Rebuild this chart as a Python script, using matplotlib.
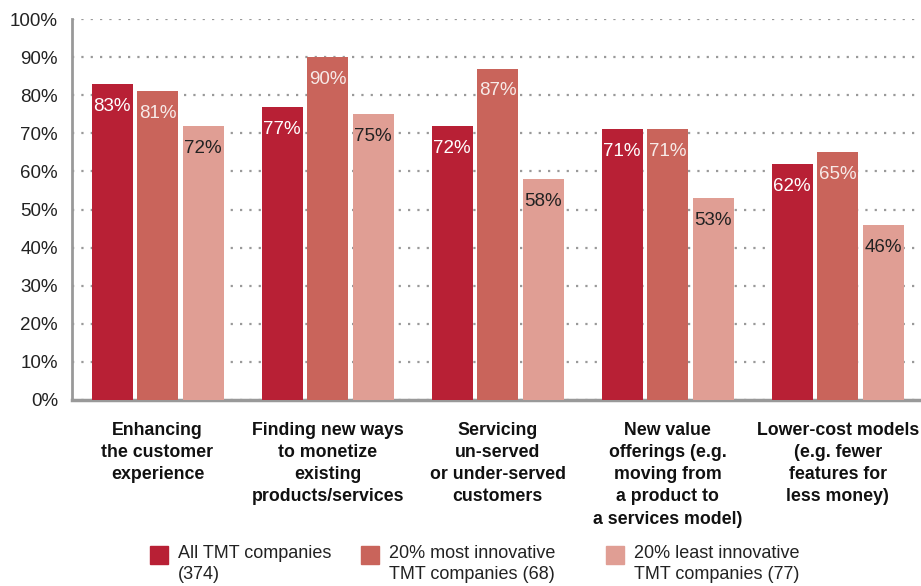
import matplotlib
matplotlib.use("Agg")
import matplotlib.pyplot as plt
from matplotlib.patches import Rectangle
import numpy as np

categories = [
    "Enhancing\nthe customer\nexperience",
    "Finding new ways\nto monetize\nexisting\nproducts/services",
    "Servicing\nun-served\nor under-served\ncustomers",
    "New value\nofferings (e.g.\nmoving from\na product to\na services model)",
    "Lower-cost models\n(e.g. fewer\nfeatures for\nless money)",
]
series_names = [
    "All TMT companies\n(374)",
    "20% most innovative\nTMT companies (68)",
    "20% least innovative\nTMT companies (77)",
]
all_tmt = [83, 77, 72, 71, 62]
most_innov = [81, 90, 87, 71, 65]
least_innov = [72, 75, 58, 53, 46]
yticks = [0, 10, 20, 30, 40, 50, 60, 70, 80, 90, 100]

colors = ["#B82035", "#C9645B", "#E09E94"]
label_colors = ["white", "#F7EAE8", "#222222"]
font = "Liberation Sans"

W, H = 921, 586
fig = plt.figure(figsize=(W / 100, H / 100), dpi=100)
ax = fig.add_axes([72 / W, 1 - 400 / H, (W - 72) / W, (400 - 19) / H])

x = np.arange(len(categories))
bw = 41 / 170
step = 45.5 / 170
data = [all_tmt, most_innov, least_innov]
for i, vals in enumerate(data):
    xs = x + (i - 1) * step
    ax.bar(xs, vals, width=bw, color=colors[i], zorder=3)
    for xi, v in zip(xs, vals):
        ax.annotate(f"{v}%", (xi, v), xytext=(0, -10), textcoords="offset points",
                    ha="center", va="top", fontsize=13.5, family=font,
                    color=label_colors[i], zorder=4)

ax.set_xlim(-0.503, 4.49)
ax.set_ylim(0, 100)
ax.set_yticks(yticks)
ax.set_yticklabels([f"{t}%" for t in yticks], fontsize=13.5, family=font, color="#222222")
ax.yaxis.grid(True, linestyle=(0, (1, 3.2)), color="#999999", linewidth=1.6, zorder=0)
ax.tick_params(axis="y", length=0, pad=10)
ax.set_xticks(x)
ax.set_xticklabels(categories, fontsize=12.8, fontweight="bold", family=font,
                   linespacing=1.39, va="top", color="#111111")
ax.tick_params(axis="x", length=0, pad=16)
for s in ["top", "right"]:
    ax.spines[s].set_visible(False)
ax.spines["left"].set_color("#999999")
ax.spines["left"].set_linewidth(2)
ax.spines["bottom"].set_color("#999999")
ax.spines["bottom"].set_linewidth(2.5)

# legend
sq_x = [150, 361, 606]
for i in range(3):
    fig.patches.append(Rectangle((sq_x[i] / W, 1 - 564 / H), 18 / W, 18 / H,
                                 transform=fig.transFigure, color=colors[i]))
    fig.text((sq_x[i] + 28) / W, 1 - 545 / H, series_names[i], fontsize=13,
             family=font, va="top", ha="left", color="#222222", linespacing=1.3)

fig.savefig("out.png", dpi=100)
